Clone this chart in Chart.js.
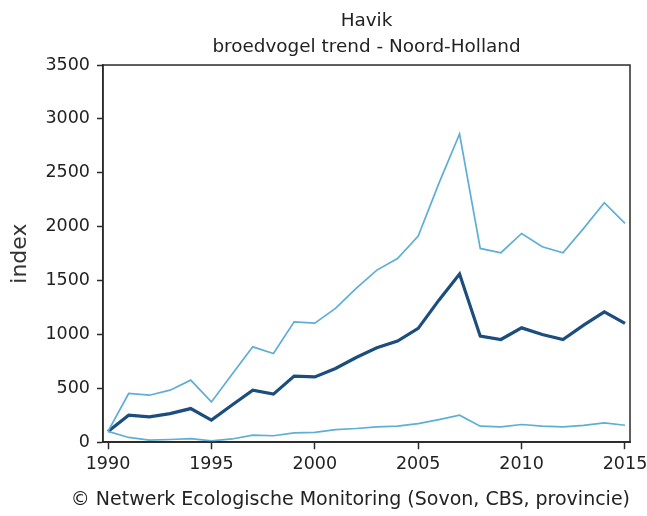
<!DOCTYPE html>
<html>
<head>
<meta charset="utf-8">
<script src="https://cdn.jsdelivr.net/npm/chart.js@4"></script>
<style>
    html, body { margin: 0; padding: 0; background: #fff; }
    #wrap { width: 647px; height: 516px; }
</style>
</head>
<body>
<div id="wrap"><canvas id="trendChart" width="647" height="516"></canvas></div>
<script>
// Years and index values
const years = [1990, 1991, 1992, 1993, 1994, 1995, 1996, 1997, 1998, 1999, 2000, 2001, 2002,
    2003, 2004, 2005, 2006, 2007, 2008, 2009, 2010, 2011, 2012, 2013, 2014, 2015];
const indexValues = [100, 250, 235, 265, 312, 205, 345, 483, 446, 613, 606, 684, 786,
    876, 938, 1056, 1318, 1560, 984, 953, 1061, 1000, 953, 1086, 1210, 1102];
const upperBound = [100, 452, 436, 483, 576, 374, 630, 885, 823, 1117, 1105, 1241, 1427,
    1597, 1705, 1913, 2402, 2860, 1798, 1758, 1937, 1813, 1758, 1984, 2222, 2031];
const lowerBound = [100, 44, 19, 25, 34, 12, 30, 65, 60, 87, 92, 117, 127,
    142, 149, 173, 210, 250, 149, 142, 164, 149, 142, 157, 180, 157];
const xTicks = [1990, 1995, 2000, 2005, 2010, 2015];
const yTicks = [0, 500, 1000, 1500, 2000, 2500, 3000, 3500];

const textColor = '#222';
const fontFamily = '"DejaVu Sans", Verdana, sans-serif';

// Turn a value list into x/y points
function toPoints(values) {
    return years.map((yr, i) => ({ x: yr, y: values[i] }));
}

// Draw the closed frame round the plot area
const frameBox = {
    id: 'frameBox',
    afterDatasetsDraw(chart) {
        const { ctx, chartArea } = chart;
        ctx.save();
        ctx.strokeStyle = '#2a2a2a';
        ctx.lineWidth = 1.5;
        ctx.strokeRect(chartArea.left, chartArea.top,
            chartArea.right - chartArea.left, chartArea.bottom - chartArea.top);
        ctx.restore();
    }
};

const ctx = document.getElementById('trendChart').getContext('2d');
const chart = new Chart(ctx, {
    type: 'line',
    data: {
        datasets: [
            {
                label: 'bovengrens',
                data: toPoints(upperBound),
                borderColor: '#5eaed6',
                borderWidth: 1.7,
                pointRadius: 0,
                tension: 0
            },
            {
                label: 'ondergrens',
                data: toPoints(lowerBound),
                borderColor: '#5eaed6',
                borderWidth: 1.7,
                pointRadius: 0,
                tension: 0
            },
            {
                label: 'index',
                data: toPoints(indexValues),
                borderColor: '#1b4e7e',
                borderWidth: 3.2,
                pointRadius: 0,
                tension: 0
            }
        ]
    },
    options: {
        responsive: false,
        animation: false,
        devicePixelRatio: 1,
        layout: {
            padding: { left: 0, right: 17, top: 0, bottom: 0 }
        },
        scales: {
            x: {
                type: 'linear',
                min: 1989.758,
                max: 2015.242,
                afterBuildTicks: (scale) => {
                    scale.ticks = xTicks.map(v => ({ value: v }));
                },
                afterFit: (scale) => {
                    scale.height = 40;
                    scale.paddingLeft = 0;
                    scale.paddingRight = 0;
                },
                grid: {
                    drawOnChartArea: false,
                    drawTicks: true,
                    tickLength: 7,
                    tickColor: '#2a2a2a',
                    tickWidth: 1.5
                },
                border: { display: true, color: '#2a2a2a', width: 1.5 },
                ticks: {
                    color: textColor,
                    padding: 5,
                    maxRotation: 0,
                    autoSkip: false,
                    font: { family: fontFamily, size: 17.5 },
                    callback: (v) => String(v)
                }
            },
            y: {
                min: 0,
                max: 3500,
                afterBuildTicks: (scale) => {
                    scale.ticks = yTicks.map(v => ({ value: v }));
                },
                afterFit: (scale) => {
                    scale.width = 103;
                },
                grid: {
                    drawOnChartArea: false,
                    drawTicks: true,
                    tickLength: 6,
                    tickColor: '#2a2a2a',
                    tickWidth: 1.5
                },
                border: { display: true, color: '#2a2a2a', width: 1.5 },
                ticks: {
                    color: textColor,
                    padding: 7,
                    font: { family: fontFamily, size: 17.5 },
                    callback: (v) => String(v)
                },
                title: {
                    display: true,
                    text: 'index',
                    color: '#333',
                    font: { family: fontFamily, size: 22 },
                    padding: { top: 7, bottom: 4 }
                }
            }
        },
        plugins: {
            legend: { display: false },
            tooltip: { enabled: false },
            title: {
                display: true,
                fullSize: false,
                text: ['Havik', 'broedvogel trend - Noord-Holland'],
                color: textColor,
                font: { family: fontFamily, size: 18.4, weight: 'normal', lineHeight: 1.37 },
                padding: { top: 9, bottom: 5.6 }
            },
            subtitle: {
                display: true,
                fullSize: true,
                align: 'end',
                position: 'bottom',
                text: '\u00A9 Netwerk Ecologische Monitoring (Sovon, CBS, provincie)',
                color: textColor,
                font: { family: fontFamily, size: 19, weight: 'normal', lineHeight: 1.2 },
                padding: { top: 6, bottom: 5 }
            }
        }
    },
    plugins: [frameBox]
});
</script>
</body>
</html>
